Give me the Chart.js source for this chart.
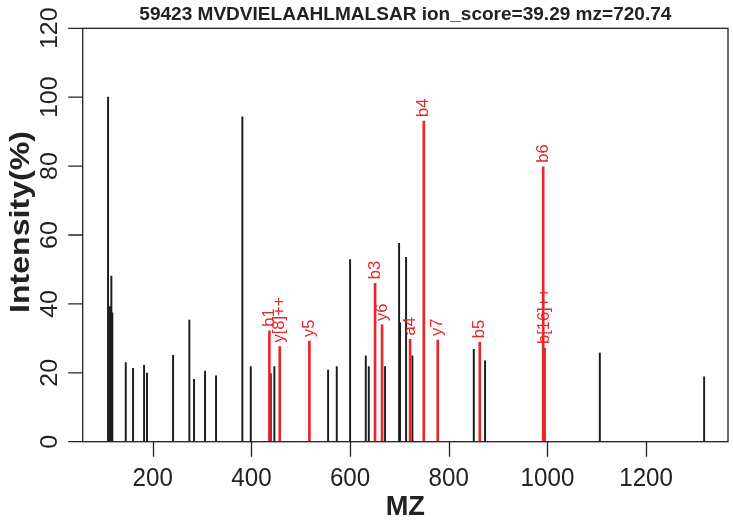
<!DOCTYPE html>
<html>
<head>
<meta charset="utf-8">
<script src="https://cdn.jsdelivr.net/npm/chart.js@4.4.1/dist/chart.umd.min.js"></script>
<style>
  body { margin: 0; background: #fff; }
  canvas { display: block; }
</style>
</head>
<body>
<canvas id="spectrum" width="733" height="529"></canvas>
<script>
// unmatched peaks (black)
const blackMz = [109.4, 113.4, 116.1, 118.1, 145.3, 160.1, 182.4, 188.4, 241.2, 274.2, 283.7, 306.0,
    328.3, 381.6, 398.7, 439.2, 446.5, 555.4, 573.0, 600.0, 631.8, 637.9, 670.9, 699.3, 701.3,
    713.5, 726.3, 850.7, 873.6, 994.4, 1106.2, 1317.6];
const blackInt = [100, 39.2, 48.1, 37.4, 23.0, 21.3, 22.2, 19.9, 25.1, 35.3, 18.1, 20.5,
    19.1, 94.3, 21.8, 19.8, 21.8, 20.8, 21.8, 52.9, 24.9, 21.8, 21.8, 57.6, 34.5,
    53.5, 24.9, 26.8, 23.5, 27.1, 25.7, 18.8];

// matched fragment ions (red)
const ionLabels = ["b1", "y[8]++", "y5", "b3", "y6", "a4", "b4", "y7", "b5", "b6", "b[16]++"];
const ionMz = [436.4, 457.4, 517.5, 650.6, 664.8, 721.6, 749.4, 777.7, 862.9, 991.4, 993.2];
const ionInt = [32.2, 27.6, 29.2, 46.0, 33.9, 29.7, 93.1, 29.5, 28.9, 79.8, 27.2];

const xTicks = [200, 400, 600, 800, 1000, 1200];
const yTicks = [0, 20, 40, 60, 80, 100, 120];

const title = "59423 MVDVIELAAHLMALSAR ion_score=39.29 mz=720.74";
const xTitle = "MZ";
const yTitle = "Intensity(%)";

const RED = '#e8262c';
const INK = '#222222';
const FONT = '"Liberation Sans", Arial, Helvetica, sans-serif';

// draws text stretched along its own direction to a given length
function fitText(ctx, text, x, y, width, rotated) {
    const w = ctx.measureText(text).width;
    ctx.save();
    ctx.translate(x, y);
    if (rotated) ctx.rotate(-Math.PI / 2);
    ctx.scale(width / w, 1);
    ctx.fillText(text, 0, 0);
    ctx.restore();
}

const rPlotFrame = {
    id: 'rPlotFrame',
    afterDatasetsDraw(chart) {
        const {ctx, chartArea: a, scales: {x, y}} = chart;
        ctx.save();

        // ion labels above the red peaks
        ctx.fillStyle = RED;
        ctx.font = '16.5px ' + FONT;
        ctx.textAlign = 'left';
        ctx.textBaseline = 'middle';
        ionLabels.forEach((t, i) => {
            const px = x.getPixelForValue(ionMz[i]);
            const py = y.getPixelForValue(ionInt[i]) - 4;
            fitText(ctx, t, px, py, ctx.measureText(t).width, true);
        });

        // box + ticks
        ctx.strokeStyle = INK;
        ctx.lineWidth = 1.3;
        ctx.strokeRect(a.left, a.top, a.right - a.left, a.bottom - a.top);
        ctx.beginPath();
        xTicks.forEach(v => {
            const px = Math.round(x.getPixelForValue(v)) + 0.5;
            ctx.moveTo(px, a.bottom);
            ctx.lineTo(px, a.bottom + 15);
        });
        yTicks.forEach(v => {
            const py = y.getPixelForValue(v);
            ctx.moveTo(a.left, py);
            ctx.lineTo(a.left - 14.5, py);
        });
        ctx.stroke();

        // tick labels
        ctx.fillStyle = INK;
        ctx.font = '26px ' + FONT;
        ctx.textAlign = 'center';
        ctx.textBaseline = 'alphabetic';
        xTicks.forEach(v => {
            const t = String(v);
            fitText(ctx, t, x.getPixelForValue(v), 485.7, ctx.measureText(t).width * 0.93, false);
        });
        ctx.font = '24px ' + FONT;
        yTicks.forEach(v => {
            const t = String(v);
            fitText(ctx, t, 57, y.getPixelForValue(v), ctx.measureText(t).width * 1.04, true);
        });

        // titles
        ctx.font = 'bold 18px ' + FONT;
        fitText(ctx, title, (a.left + a.right) / 2, 20, 532, false);
        ctx.font = 'bold 28px ' + FONT;
        fitText(ctx, xTitle, (a.left + a.right) / 2, 515, 39.3, false);
        ctx.font = 'bold 27px ' + FONT;
        fitText(ctx, yTitle, 29, 222, 182, true);

        ctx.restore();
    }
};

const blackPts = blackMz.map((m, i) => ({x: m, y: blackInt[i]}));
const ionPts = ionMz.map((m, i) => ({x: m, y: ionInt[i]}));

new Chart(document.getElementById('spectrum'), {
    type: 'bar',
    data: {
        datasets: [
            {data: ionPts, backgroundColor: RED, barThickness: 2, grouped: false, order: 0},
            {data: blackPts, backgroundColor: '#1c1c1c', barThickness: 1.3, grouped: false, order: 1},
        ]
    },
    options: {
        responsive: false,
        animation: false,
        layout: {padding: {left: 82.7, right: 5, top: 28.3, bottom: 87.3}},
        plugins: {legend: {display: false}, tooltip: {enabled: false}},
        scales: {
            x: {type: 'linear', min: 58, max: 1366, offset: false, display: false},
            y: {min: 0, max: 120, display: false}
        }
    },
    plugins: [rPlotFrame]
});
</script>
</body>
</html>
